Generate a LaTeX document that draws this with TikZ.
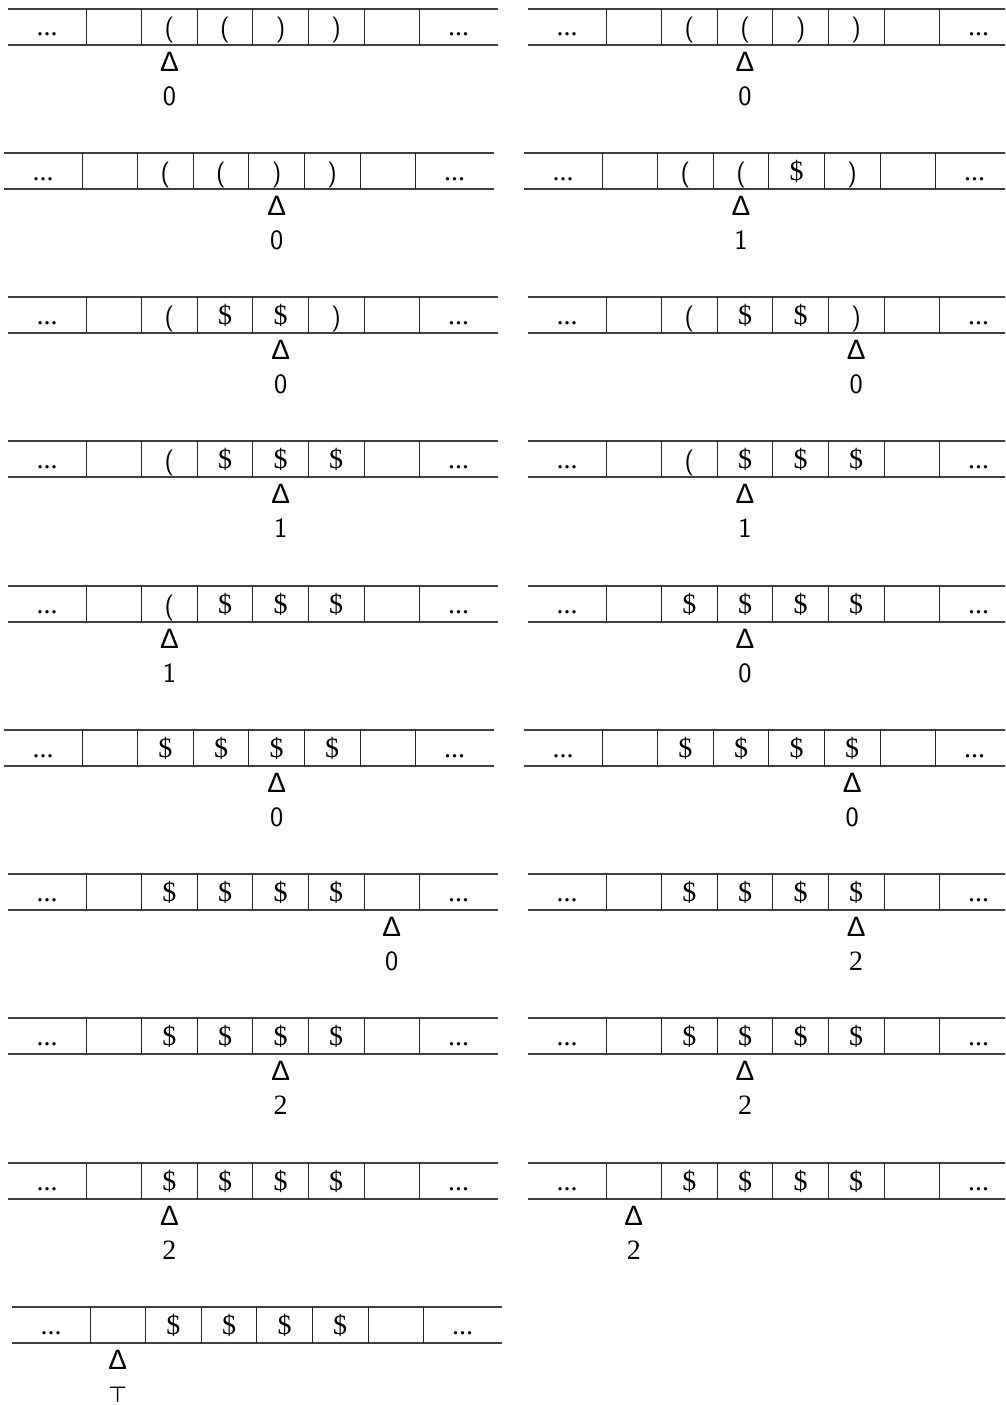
\documentclass[tikz,border=0pt]{standalone}
\usepackage{fontspec}
\newfontfamily\tapefont{Liberation Serif}
\newfontfamily\deltafont{Liberation Sans}
\newfontfamily\dvfont{DejaVu Sans}
\newcommand\lp{\raisebox{-1pt}{\sffamily\fontsize{26}{28}\selectfont(}}
\newcommand\rp{\raisebox{-1pt}{\sffamily\fontsize{26}{28}\selectfont)}}
\newcommand\dl{\$}
\newcommand\two{{\tapefont\fontsize{28}{30}\selectfont 2}}
\newcommand\topsym{{\dvfont\fontsize{22}{24}\selectfont ⊤}}
\tikzset{
  tapeline/.style={line width=1.6pt, draw=black!75},
  cellline/.style={line width=0.9pt, draw=black!85},
  sym/.style={inner sep=0pt, anchor=base, font=\tapefont\fontsize{28}{30}\selectfont},
  headsym/.style={inner sep=0pt, anchor=center, font=\deltafont\fontsize{28}{30}\selectfont},
  statelab/.style={inner sep=0pt, anchor=center, font=\sffamily\fontsize{28}{30}\selectfont},
}
% #1 name, #2 x0, #3 y0, #4-#7 contents, #8 head cell (1..6), #9 label
\newcommand\tapeRow[9]{%
  \draw[tapeline] (#2,#3) -- ++(490,0);
  \draw[tapeline] (#2,#3+36) -- ++(490,0);
  \foreach \i in {0,...,6} {\draw[cellline] (#2+78+\i*55.6,#3) -- ++(0,36);}
  \node[sym] (#1-d0) at (#2+39,#3+27) {...};
  \node[sym] (#1-c1) at (#2+78+1*55.6+27.8,#3+27) {#4};
  \node[sym] (#1-c2) at (#2+78+2*55.6+27.8,#3+27) {#5};
  \node[sym] (#1-c3) at (#2+78+3*55.6+27.8,#3+27) {#6};
  \node[sym] (#1-c4) at (#2+78+4*55.6+27.8,#3+27) {#7};
  \node[sym] (#1-d7) at (#2+78+6*55.6+39,#3+27) {...};
  \node[headsym] (#1-h) at (#2+78+#8*55.6-27.8,#3+52.5) {Δ};
  \node[statelab] (#1-s) at (#2+78+#8*55.6-27.8,#3+87.5) {#9};
}
\begin{document}
\begin{tikzpicture}[x=1pt,y=-1pt]
\path[use as bounding box] (0,0) rectangle (1005,1405);
\fill[white] (0,0) rectangle (1005,1405);
\clip (0,0) rectangle (1005,1405);
% left column
\tapeRow{L1}{8}{9}{\lp}{\lp}{\rp}{\rp}{2}{0}
\tapeRow{L2}{4}{153}{\lp}{\lp}{\rp}{\rp}{4}{0}
\tapeRow{L3}{8}{297}{\lp}{\dl}{\dl}{\rp}{4}{0}
\tapeRow{L4}{8}{441}{\lp}{\dl}{\dl}{\dl}{4}{1}
\tapeRow{L5}{8}{586}{\lp}{\dl}{\dl}{\dl}{2}{1}
\tapeRow{L6}{4}{730}{\dl}{\dl}{\dl}{\dl}{4}{0}
\tapeRow{L7}{8}{874}{\dl}{\dl}{\dl}{\dl}{6}{0}
\tapeRow{L8}{8}{1018}{\dl}{\dl}{\dl}{\dl}{4}{\two}
\tapeRow{L9}{8}{1163}{\dl}{\dl}{\dl}{\dl}{2}{\two}
\tapeRow{L10}{12}{1307}{\dl}{\dl}{\dl}{\dl}{1}{\topsym}
% right column
\tapeRow{R1}{528}{9}{\lp}{\lp}{\rp}{\rp}{3}{0}
\tapeRow{R2}{524}{153}{\lp}{\lp}{\dl}{\rp}{3}{1}
\tapeRow{R3}{528}{297}{\lp}{\dl}{\dl}{\rp}{5}{0}
\tapeRow{R4}{528}{441}{\lp}{\dl}{\dl}{\dl}{3}{1}
\tapeRow{R5}{528}{586}{\dl}{\dl}{\dl}{\dl}{3}{0}
\tapeRow{R6}{524}{730}{\dl}{\dl}{\dl}{\dl}{5}{0}
\tapeRow{R7}{528}{874}{\dl}{\dl}{\dl}{\dl}{5}{\two}
\tapeRow{R8}{528}{1018}{\dl}{\dl}{\dl}{\dl}{3}{\two}
\tapeRow{R9}{528}{1163}{\dl}{\dl}{\dl}{\dl}{1}{\two}
\end{tikzpicture}
\end{document}
